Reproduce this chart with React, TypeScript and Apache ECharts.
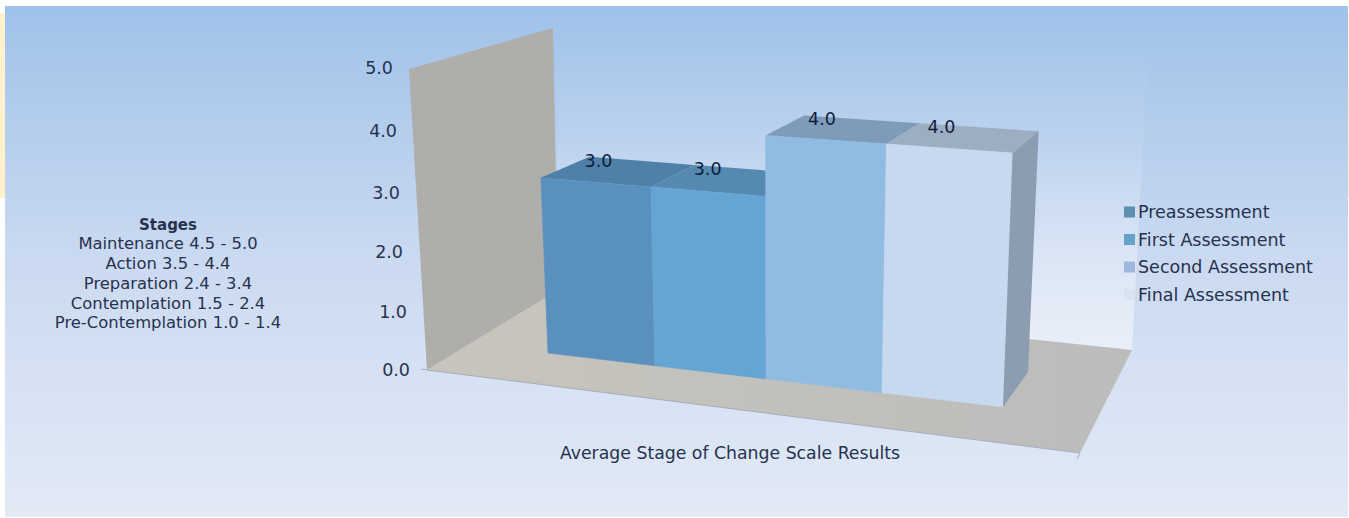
import React, { useEffect, useRef } from "react";
import * as echarts from "echarts";

const categories = ["Average Stage of Change Scale Results"];
const seriesNames = ["Preassessment", "First Assessment", "Second Assessment", "Final Assessment"];
const seriesValues = [3.0, 3.0, 4.0, 4.0];
const yTicks = [0, 1, 2, 3, 4, 5];
const stageHeading = "Stages";
const stageLines = [
  "Maintenance 4.5 - 5.0",
  "Action 3.5 - 4.4",
  "Preparation 2.4 - 3.4",
  "Contemplation 1.5 - 2.4",
  "Pre-Contemplation 1.0 - 1.4",
];

const FONT = "'DejaVu Sans', sans-serif";
const TEXT = "#27324f";

const frontColors = ["#5a90bd", "#65a5d3", "#90bce1", "#c6d9ef"];
const topColors = ["#4f80a7", "#5689b0", "#7e9cba", "#9daec2"];
const swatchColors = ["#5c8fb0", "#66a3c8", "#9fb6de", "#d8e2f0"];
const sideColor = "#8c9cb1";

// Flat plot rectangle; the custom series lifts its pixels into the tilted scene.
const GRID = { left: 427, top: 68, width: 606, height: 302 };

// Footprint of the whole bar block on the floor: front-left, front-right, back-right, back-left.
const FOOT: number[][] = [[548, 353], [1003, 407], [1028, 372], [595, 323.5]];

// Unit square to quadrilateral homography.
function squareToQuad(q: number[][]) {
  const [[x0, y0], [x1, y1], [x2, y2], [x3, y3]] = q;
  const dx1 = x1 - x2, dx2 = x3 - x2, sx = x0 - x1 + x2 - x3;
  const dy1 = y1 - y2, dy2 = y3 - y2, sy = y0 - y1 + y2 - y3;
  const den = dx1 * dy2 - dx2 * dy1;
  const g = (sx * dy2 - dx2 * sy) / den;
  const h = (dx1 * sy - sx * dy1) / den;
  const a = x1 - x0 + g * x1, b = x3 - x0 + h * x3;
  const d = y1 - y0 + g * y1, e = y3 - y0 + h * y3;
  return (u: number, v: number) => {
    const w = g * u + h * v + 1;
    return [(a * u + b * v + x0) / w, (d * u + e * v + y0) / w];
  };
}
const floorPoint = squareToQuad(FOOT);

// Lifts a floor point by a height given in flat plot pixels.
function lift(p: number[], flatHeight: number) {
  const units = flatHeight / (GRID.height / 5);
  const perUnit = 52.4 + 0.095 * (p[1] - 290);
  const lean = (p[0] - 775) * 0.0105;
  return [p[0] + lean * units, p[1] - perUnit * units];
}

function renderBar(params: any, api: any) {
  const i = params.seriesIndex;
  const value = api.value(1);
  const flat = api.coord([0, 0])[1] - api.coord([0, value])[1];
  const u0 = i / seriesNames.length;
  const u1 = (i + 1) / seriesNames.length;

  const fl = floorPoint(u0, 0), fr = floorPoint(u1, 0);
  const br = floorPoint(u1, 1), bl = floorPoint(u0, 1);
  const tfl = lift(fl, flat), tfr = lift(fr, flat);
  const tbr = lift(br, flat), tbl = lift(bl, flat);
  const labelAt = lift(floorPoint((u0 + u1) / 2, 0.62), flat);

  const children: any[] = [
    { type: "polygon", shape: { points: [tfl, tfr, tbr, tbl] }, style: { fill: topColors[i] } },
    { type: "polygon", shape: { points: [fl, fr, tfr, tfl] }, style: { fill: frontColors[i], stroke: frontColors[i], lineWidth: 0.6 } },
  ];
  if (i === seriesNames.length - 1) {
    children.push({ type: "polygon", shape: { points: [fr, br, tbr, tfr] }, style: { fill: sideColor } });
  }
  children.push({
    type: "text",
    style: {
      text: value.toFixed(1),
      x: labelAt[0] - 26,
      y: labelAt[1] - 8,
      align: "center",
      verticalAlign: "middle",
      font: `17.5px ${FONT}`,
      fill: "#101b3a",
    },
  });
  return { type: "group", children };
}

// Labels follow the slanted front edge of the left wall, so each tick gets its own padding.
const tickRight = [0, 3, 7, 10, 13, 17];
const tickDown = [0, 2, 3, 4, 3, 0];
const richTicks: Record<string, any> = {};
yTicks.forEach((v) => {
  richTicks[`t${v}`] = {
    fontFamily: FONT,
    fontSize: 17.5,
    color: TEXT,
    padding: [tickDown[v] * 2, tickRight[v], 0, 0],
  };
});

const scenery: any[] = [
  {
    type: "rect",
    z: -10,
    shape: { x: 5, y: 6, width: 1343, height: 511 },
    style: {
      fill: new echarts.graphic.LinearGradient(0, 0, 0, 1, [
        { offset: 0, color: "#9fc2e9" },
        { offset: 0.5, color: "#cbdaf1" },
        { offset: 1, color: "#e3eaf6" },
      ]),
    },
  },
  { type: "rect", z: -10, shape: { x: 0, y: 13, width: 5, height: 185 }, style: { fill: "#fff1cc" } },
  { type: "rect", z: -10, shape: { x: 1348, y: 13, width: 1, height: 184 }, style: { fill: "#fff1cc" } },
  {
    type: "polygon",
    z: -9,
    shape: { points: [[557, 28], [1148, 55], [1132, 350], [558, 290]] },
    style: {
      fill: new echarts.graphic.LinearGradient(0, 0, 0, 1, [
        { offset: 0, color: "rgba(255,255,255,0)" },
        { offset: 0.35, color: "rgba(255,255,255,0.08)" },
        { offset: 1, color: "rgba(255,255,255,0.5)" },
      ]),
    },
  },
  {
    type: "polygon",
    z: -8,
    shape: { points: [[427, 370], [558, 290], [1132, 350], [1080, 453]] },
    style: {
      fill: new echarts.graphic.LinearGradient(0, 0, 1, 0, [
        { offset: 0, color: "#c8c5bc" },
        { offset: 1, color: "#bbbcbc" },
      ]),
    },
  },
  {
    type: "polygon",
    z: -7,
    shape: { points: [[409, 69], [553, 28], [558, 290], [427, 370]] },
    style: { fill: "#afaeaa" },
  },
  // Thin front edge of the floor with its corner ticks
  { type: "line", z: -6, shape: { x1: 427, y1: 370, x2: 1080, y2: 453 }, style: { stroke: "#a4adba", lineWidth: 1 } },
  { type: "line", z: -6, shape: { x1: 1080, y1: 453, x2: 1077, y2: 459 }, style: { stroke: "#a8b0bc", lineWidth: 1 } },
  { type: "line", z: -6, shape: { x1: 427, y1: 370, x2: 421, y2: 369 }, style: { stroke: "#a8b0bc", lineWidth: 1 } },
  { type: "text", z: 5, style: { text: stageHeading, x: 168, y: 225, align: "center", verticalAlign: "middle", font: `bold 15px ${FONT}`, fill: TEXT } },
  ...stageLines.map((line, i) => ({
    type: "text",
    z: 5,
    style: {
      text: line,
      x: 168,
      y: [243, 263, 283, 303, 322][i],
      align: "center",
      verticalAlign: "middle",
      font: `16.4px ${FONT}`,
      fill: TEXT,
    },
  })),
];

export default function App() {
  const ref = useRef<HTMLDivElement>(null);
  useEffect(() => {
    const chart = echarts.init(ref.current!, undefined, { renderer: "svg" });
    chart.setOption({
      animation: false,
      backgroundColor: "#ffffff",
      grid: { ...GRID, containLabel: false },
      graphic: { elements: scenery },
      legend: {
        orient: "vertical",
        left: 1119,
        top: 198,
        icon: "rect",
        itemWidth: 11,
        itemHeight: 11,
        itemGap: 9.5,
        data: seriesNames,
        textStyle: { fontFamily: FONT, fontSize: 17.5, color: TEXT, padding: [0, 0, 0, -2] },
      },
      xAxis: {
        type: "category",
        data: categories,
        axisLine: { show: false },
        axisTick: { show: false },
        axisLabel: { margin: 74, fontFamily: FONT, fontSize: 17.3, color: TEXT },
      },
      yAxis: {
        type: "value",
        min: 0,
        max: 5,
        interval: 1,
        axisLine: { show: false },
        axisTick: { show: false },
        splitLine: { show: false },
        axisLabel: {
          margin: 17,
          formatter: (v: number) => `{t${v}|${v.toFixed(1)}}`,
          rich: richTicks,
        },
      },
      series: seriesNames.map((name, i) => ({
        name,
        type: "custom",
        coordinateSystem: "cartesian2d",
        renderItem: renderBar,
        itemStyle: { color: swatchColors[i] },
        encode: { x: 0, y: 1 },
        data: [[0, seriesValues[i]]],
        clip: false,
      })),
    });
    return () => chart.dispose();
  }, []);
  return <div ref={ref} style={{ position: "absolute", left: 0, top: 0, width: 1349, height: 518 }} />;
}
